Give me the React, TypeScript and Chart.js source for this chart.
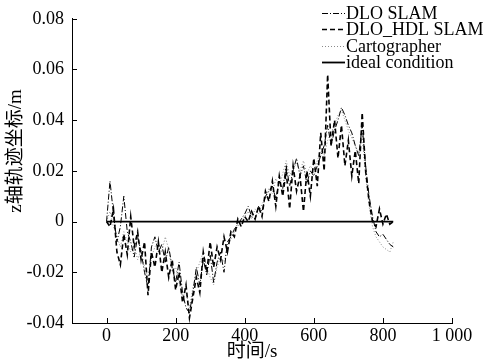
import React, { useEffect, useRef } from "react";
import { Chart, registerables } from "chart.js";
Chart.register(...registerables);

const times = [0, 10, 20, 30, 40, 50, 60, 70, 80, 90, 100, 110, 120, 130, 140, 150, 160, 170, 180, 190, 200, 210, 220, 230, 240, 250, 260, 270, 280, 290, 300, 310, 320, 330, 340, 350, 360, 370, 380, 390, 400, 410, 420, 430, 440, 450, 460, 470, 480, 490, 500, 510, 520, 530, 540, 550, 560, 570, 580, 590, 600, 610, 620, 630, 640, 650, 660, 670, 680, 690, 700, 710, 720, 730, 740, 750, 760, 770, 780, 790, 800, 810, 820, 830];

const dloSlam = [0, 0.016, 0.003, -0.008, -0.002, 0.01, -0.004, -0.008, -0.014, -0.006, -0.012, -0.02, -0.026, -0.01, -0.006, -0.012, -0.009, -0.016, -0.01, -0.018, -0.024, -0.016, -0.028, -0.034, -0.036, -0.028, -0.018, -0.025, -0.015, -0.021, -0.013, -0.024, -0.016, -0.012, -0.02, -0.008, -0.006, -0.003, -0.001, 0.001, 0.003, 0.006, 0.002, 0.001, 0.006, 0.004, 0.01, 0.012, 0.014, 0.009, 0.016, 0.013, 0.022, 0.014, 0.02, 0.025, 0.018, 0.022, 0.015, 0.02, 0.018, 0.022, 0.026, 0.03, 0.038, 0.03, 0.036, 0.04, 0.045, 0.042, 0.038, 0.035, 0.03, 0.026, 0.038, 0.022, 0.01, 0.002, -0.004, -0.006, -0.005, -0.007, -0.009, -0.01];

const dloHdl = [0, -0.002, 0.005, -0.012, -0.017, -0.005, -0.013, 0.002, -0.01, -0.004, -0.015, -0.008, -0.029, -0.012, -0.018, -0.008, -0.02, -0.012, -0.022, -0.015, -0.027, -0.02, -0.032, -0.025, -0.038, -0.03, -0.022, -0.028, -0.012, -0.02, -0.008, -0.018, -0.01, -0.015, -0.006, -0.012, -0.004, -0.006, 0.001, -0.002, 0.002, 0, 0.004, 0.001, 0.006, 0.002, 0.012, 0.008, 0.016, 0.006, 0.018, 0.01, 0.02, 0.005, 0.022, 0.012, 0.018, 0.004, 0.02, 0.01, 0.025, 0.014, 0.035, 0.02, 0.058, 0.03, 0.04, 0.025, 0.038, 0.022, 0.032, 0.018, 0.028, 0.015, 0.043, 0.02, 0.008, 0, -0.002, 0.005, -0.001, 0.003, -0.001, 0];

const cartographer = [0, 0.004, -0.002, -0.006, -0.01, -0.004, -0.008, -0.012, -0.009, -0.015, -0.011, -0.018, -0.022, -0.014, -0.01, -0.008, -0.012, -0.006, -0.011, -0.02, -0.018, -0.024, -0.03, -0.028, -0.034, -0.026, -0.02, -0.016, -0.012, -0.018, -0.022, -0.025, -0.018, -0.014, -0.016, -0.01, -0.007, -0.004, -0.002, 0, 0.002, 0.004, 0.001, 0.005, 0.003, 0.007, 0.009, 0.013, 0.011, 0.017, 0.014, 0.019, 0.024, 0.018, 0.021, 0.023, 0.02, 0.024, 0.019, 0.022, 0.02, 0.024, 0.028, 0.026, 0.032, 0.035, 0.038, 0.042, 0.044, 0.04, 0.036, 0.033, 0.03, 0.027, 0.034, 0.018, 0.006, -0.002, -0.006, -0.008, -0.01, -0.011, -0.012, -0.008];

const idealTimes = [0, 830];
const idealValues = [0, 0];

const xTicks = [0, 200, 400, 600, 800, 1000];
const xTickLabels = ["0", "200", "400", "600", "800", "1 000"];
const yTicks = [-0.04, -0.02, 0, 0.02, 0.04, 0.06, 0.08];
const yTickLabels = ["-0.04", "-0.02", "0", "0.02", "0.04", "0.06", "0.08"];

const legendItems = ["DLO SLAM", "DLO_HDL SLAM", "Cartographer", "ideal condition"];
const yTitle = "z轴轨迹坐标/m";
const xTitle = "时间/s";

const FONT = "'Liberation Serif', 'Noto Sans CJK SC', serif";

const styles = [
  { color: "#000", width: 1, dash: [6, 2, 1, 2] },
  { color: "#000", width: 1.6, dash: [5, 3] },
  { color: "#8a8a8a", width: 1, dash: [1, 2] },
  { color: "#000", width: 1.8, dash: [] as number[] },
];

const toPts = (xs: number[], ys: number[]) => xs.map((x, i) => ({ x, y: ys[i] }));

const decor = {
  id: "decor",
  afterDraw(chart: any) {
    const ctx = chart.ctx as CanvasRenderingContext2D;
    const { left, bottom } = chart.chartArea;
    const xs = chart.scales.x;
    const ys = chart.scales.y;
    ctx.save();
    ctx.strokeStyle = "#000";
    ctx.lineWidth = 1;
    ctx.setLineDash([]);
    xTicks.forEach((v) => {
      const px = Math.round(xs.getPixelForValue(v)) + 0.5;
      ctx.beginPath();
      ctx.moveTo(px, bottom);
      ctx.lineTo(px, bottom - 5);
      ctx.stroke();
    });
    yTicks.forEach((v) => {
      const py = Math.round(ys.getPixelForValue(v)) + 0.5;
      ctx.beginPath();
      ctx.moveTo(left, py);
      ctx.lineTo(left + 5, py);
      ctx.stroke();
    });
    ctx.fillStyle = "#000";
    ctx.font = `19px ${FONT}`;
    ctx.textAlign = "center";
    ctx.textBaseline = "middle";
    ctx.fillText(xTitle, 252, 352);
    ctx.save();
    ctx.translate(16, 151);
    ctx.rotate(-Math.PI / 2);
    ctx.fillText(yTitle, 0, 0);
    ctx.restore();
    const rowsY = [13, 29, 46, 62];
    ctx.font = `18px ${FONT}`;
    ctx.textAlign = "left";
    legendItems.forEach((label, i) => {
      const s = styles[i];
      const y = rowsY[i];
      ctx.save();
      ctx.strokeStyle = s.color;
      ctx.lineWidth = s.width;
      ctx.setLineDash(s.dash);
      ctx.beginPath();
      ctx.moveTo(322, y + 0.5);
      ctx.lineTo(345, y + 0.5);
      ctx.stroke();
      ctx.restore();
      ctx.fillStyle = "#000";
      ctx.fillText(label, 346, y + 1);
    });
    ctx.restore();
  },
};

export default function App() {
  const ref = useRef<HTMLCanvasElement | null>(null);
  useEffect(() => {
    if (!ref.current) return;
    const series = [dloSlam, dloHdl, cartographer];
    const datasets: any[] = series.map((vals, i) => ({
      label: legendItems[i],
      data: toPts(times, vals),
      borderColor: styles[i].color,
      borderWidth: styles[i].width,
      borderDash: styles[i].dash,
      pointRadius: 0,
      fill: false,
      tension: 0,
    }));
    datasets.push({
      label: legendItems[3],
      data: toPts(idealTimes, idealValues),
      borderColor: styles[3].color,
      borderWidth: styles[3].width,
      pointRadius: 0,
      fill: false,
    });
    const chart = new Chart(ref.current, {
      type: "line",
      data: { datasets },
      options: {
        animation: false,
        responsive: false,
        layout: { padding: { left: 0, top: 14, right: 35, bottom: 0 } },
        plugins: { legend: { display: false }, tooltip: { enabled: false } },
        scales: {
          x: {
            type: "linear",
            min: -100,
            max: 1000,
            afterBuildTicks: (s: any) => {
              s.ticks = xTicks.map((v) => ({ value: v }));
            },
            afterFit: (s: any) => {
              s.height = 40;
            },
            grid: { display: false, drawTicks: false },
            border: { display: true, color: "#000", width: 1 },
            ticks: {
              padding: 2,
              maxRotation: 0,
              autoSkip: false,
              color: "#000",
              font: { family: FONT, size: 18 },
              callback: (v: any) => {
                const i = xTicks.indexOf(Number(v));
                return i >= 0 ? xTickLabels[i] : "";
              },
            },
          },
          y: {
            type: "linear",
            min: -0.04,
            max: 0.08,
            afterBuildTicks: (s: any) => {
              s.ticks = yTicks.map((v) => ({ value: v }));
            },
            afterFit: (s: any) => {
              s.width = 72;
            },
            grid: { display: false, drawTicks: false },
            border: { display: true, color: "#000", width: 1 },
            ticks: {
              padding: 8,
              autoSkip: false,
              color: "#000",
              font: { family: FONT, size: 18 },
              callback: (v: any) => {
                const n = Number(v);
                const i = yTicks.findIndex((t) => Math.abs(t - n) < 1e-9);
                return i >= 0 ? yTickLabels[i] : "";
              },
            },
          },
        },
      },
      plugins: [decor],
    });
    return () => chart.destroy();
  }, []);
  return (
    <div style={{ position: "fixed", left: 0, top: 0, width: 487, height: 363, background: "#fff" }}>
      <canvas ref={ref} width={487} height={363} style={{ width: 487, height: 363 }} />
    </div>
  );
}
